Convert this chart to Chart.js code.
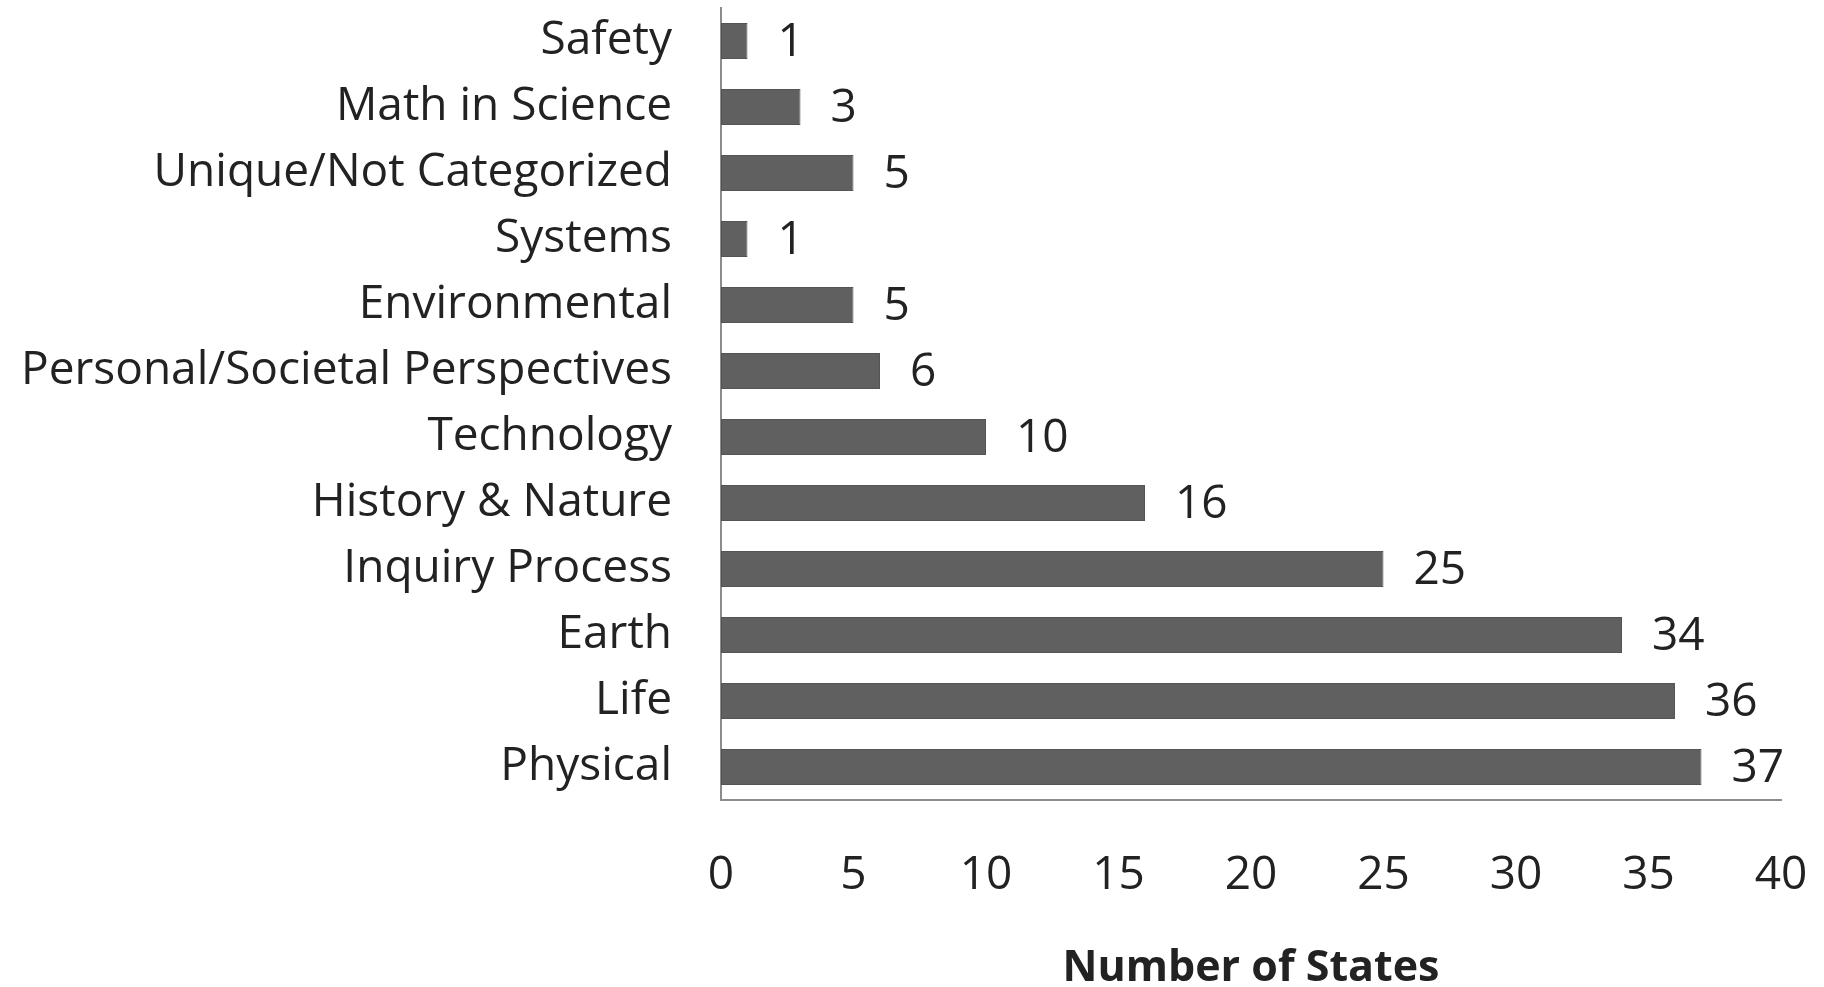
<!DOCTYPE html>
<html>
<head>
<meta charset="utf-8">
<script src="https://cdn.jsdelivr.net/npm/chart.js@4"></script>
<style>
html,body{margin:0;padding:0;background:#fff;overflow:hidden;}
#wrap{width:1824px;height:987px;position:relative;}
</style>
</head>
<body>
<div id="wrap"><canvas id="c"></canvas></div>
<script>
const categories = ["Safety","Math in Science","Unique/Not Categorized","Systems","Environmental","Personal/Societal Perspectives","Technology","History & Nature","Inquiry Process","Earth","Life","Physical"];
const statesCount = [1,3,5,1,5,6,10,16,25,34,36,37];
const xTickMin = 0, xTickMax = 40, xTickStep = 5;
const xTitle = "Number of States";

const FONT = "'Open Sans', sans-serif";
const TEXT = "#222222";
const FSIZE = 46;

const valueLabels = {
  id: 'valueLabels',
  afterDatasetsDraw(chart) {
    const ctx = chart.ctx;
    const meta = chart.getDatasetMeta(0);
    ctx.save();
    ctx.font = FSIZE + "px " + FONT;
    ctx.fillStyle = TEXT;
    ctx.textAlign = 'left';
    ctx.textBaseline = 'middle';
    meta.data.forEach((el, i) => {
      ctx.fillText(String(chart.data.datasets[0].data[i]), el.x + 30, el.y + 2);
    });
    ctx.restore();
  }
};

new Chart(document.getElementById('c'), {
  type: 'bar',
  data: {
    labels: categories,
    datasets: [{
      data: statesCount,
      backgroundColor: '#606060',
      borderColor: '#545454',
      borderWidth: 1,
      borderSkipped: false,
      barPercentage: 0.545,
      categoryPercentage: 1.0
    }]
  },
  options: {
    indexAxis: 'y',
    responsive: true,
    maintainAspectRatio: false,
    devicePixelRatio: 1,
    animation: false,
    layout: { padding: { left: 0, right: 43, top: 8, bottom: 0 } },
    plugins: { legend: { display: false }, tooltip: { enabled: false } },
    scales: {
      x: {
        min: xTickMin, max: xTickMax,
        ticks: { stepSize: xTickStep, padding: 48, color: TEXT, font: { family: FONT, size: FSIZE } },
        grid: { display: false, drawTicks: false },
        border: { display: true, color: '#8c8c8c', width: 2 },
        title: { display: true, text: xTitle, color: TEXT, font: { family: FONT, size: 43, weight: 'bold', lineHeight: 0.85 }, padding: { top: 0, bottom: 0 } },
        afterFit(scale) { scale.height = 187; scale.paddingLeft = 0; scale.paddingRight = 0; }
      },
      y: {
        ticks: { padding: 49, color: TEXT, font: { family: FONT, size: FSIZE } },
        grid: { display: false, drawTicks: false },
        border: { display: true, color: '#8c8c8c', width: 2 },
        afterFit(scale) { scale.width = 721; scale.paddingTop = 0; scale.paddingBottom = 0; }
      }
    }
  },
  plugins: [valueLabels]
});
</script>
</body>
</html>
